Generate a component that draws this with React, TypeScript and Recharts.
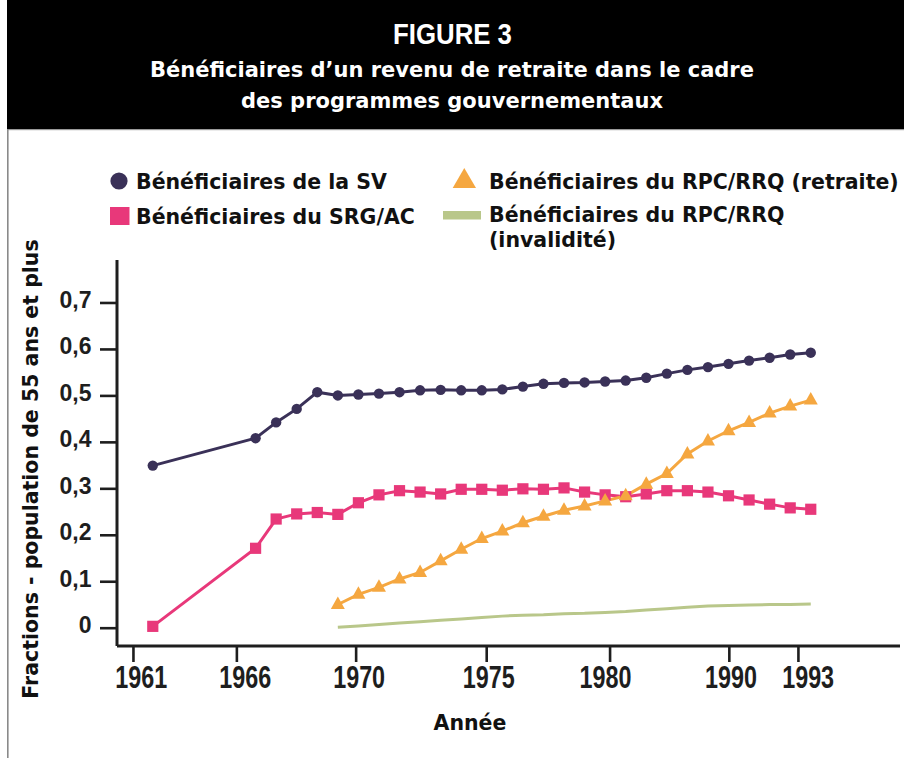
import React from 'react';
import { LineChart, Line, XAxis, YAxis } from 'recharts';

// ---------- data ----------
const YEARS = [1961, 1966, 1967, 1968, 1969, 1970, 1971, 1972, 1973, 1974, 1975, 1976, 1977, 1978, 1979, 1980, 1981, 1982, 1983, 1984, 1985, 1986, 1987, 1988, 1989, 1990, 1991, 1992, 1993];
const SV = [0.350, 0.409, 0.443, 0.472, 0.508, 0.501, 0.503, 0.505, 0.508, 0.512, 0.513, 0.512, 0.512, 0.514, 0.520, 0.526, 0.528, 0.529, 0.531, 0.533, 0.539, 0.548, 0.556, 0.562, 0.569, 0.576, 0.582, 0.589, 0.593];
const SRG = [0.004, 0.172, 0.235, 0.246, 0.249, 0.245, 0.270, 0.287, 0.296, 0.293, 0.289, 0.299, 0.299, 0.297, 0.300, 0.299, 0.302, 0.293, 0.287, 0.283, 0.289, 0.296, 0.296, 0.293, 0.285, 0.276, 0.267, 0.259, 0.256];
const RPC_START_YEAR = 1970;
const RPC_RETRAITE = [0.051, 0.073, 0.088, 0.106, 0.120, 0.145, 0.170, 0.193, 0.209, 0.227, 0.241, 0.254, 0.263, 0.274, 0.285, 0.310, 0.333, 0.375, 0.403, 0.425, 0.443, 0.463, 0.478, 0.491];
const RPC_INVALIDITE = [0.002, 0.005, 0.008, 0.011, 0.014, 0.017, 0.020, 0.023, 0.026, 0.028, 0.029, 0.031, 0.032, 0.034, 0.036, 0.039, 0.042, 0.045, 0.048, 0.049, 0.050, 0.051, 0.051, 0.052];

const X_TICK_POS = [1960.06, 1965.09, 1970.89, 1977.24, 1983.24, 1989.04, 1992.4];
const X_TICK_LABELS = ['1961', '1966', '1970', '1975', '1980', '1990', '1993'];
const Y_TICKS = [0, 0.1, 0.2, 0.3, 0.4, 0.5, 0.6, 0.7];

const TITLE = 'FIGURE 3';
const SUBTITLE_1 = 'Bénéficiaires d\u2019un revenu de retraite dans le cadre';
const SUBTITLE_2 = 'des programmes gouvernementaux';
const X_TITLE = 'Année';
const Y_TITLE = 'Fractions - population de 55 ans et plus';

const NAME_SV = 'Bénéficiaires de la SV';
const NAME_SRG = 'Bénéficiaires du SRG/AC';
const NAME_RET = 'Bénéficiaires du RPC/RRQ (retraite)';
const NAME_INV_1 = 'Bénéficiaires du RPC/RRQ';
const NAME_INV_2 = '(invalidité)';

// ---------- style ----------
const C_SV = '#3a3158';
const C_SRG = '#e8387a';
const C_RET = '#f5a740';
const C_INV = '#b9c78a';
const C_AXIS = '#1e1e1e';
const C_TEXT = '#111111';
const LABEL_SHIFT = [7.7, 8.3, 3, 2, -4.5, 1.7, 9.7];
const WIDE = '"DejaVu Sans", Verdana, sans-serif';
const ARIAL = '"Liberation Sans", Arial, Helvetica, sans-serif';

const rows = YEARS.map((year, i) => ({
  year,
  sv: SV[i],
  srg: SRG[i],
  ret: year >= RPC_START_YEAR ? RPC_RETRAITE[year - RPC_START_YEAR] : null,
  inv: year >= RPC_START_YEAR ? RPC_INVALIDITE[year - RPC_START_YEAR] : null,
}));

const CircleDot = (p: any) => {
  if (p.cx == null || p.cy == null || p.value == null) return <g key={`c${p.index}`} />;
  return <circle key={`c${p.index}`} cx={p.cx} cy={p.cy} r={5.2} fill={C_SV} />;
};
const SquareDot = (p: any) => {
  if (p.cx == null || p.cy == null || p.value == null) return <g key={`s${p.index}`} />;
  return <rect key={`s${p.index}`} x={p.cx - 5.6} y={p.cy - 5.6} width={11.2} height={11.2} fill={C_SRG} />;
};
const TriDot = (p: any) => {
  if (p.cx == null || p.cy == null || p.value == null) return <g key={`t${p.index}`} />;
  const { cx, cy } = p;
  return <polygon key={`t${p.index}`} points={`${cx},${cy - 8} ${cx + 7},${cy + 4.5} ${cx - 7},${cy + 4.5}`} fill={C_RET} />;
};

const XTick = (p: any) => {
  const { x, y, index } = p;
  return (
    <g transform={`translate(${x + LABEL_SHIFT[index]},${y}) scale(0.73,1)`}>
      <text x={0} y={23} textAnchor="middle" fontSize={32} fontFamily={ARIAL} fontWeight="bold" fill={C_AXIS}>
        {X_TICK_LABELS[index]}
      </text>
    </g>
  );
};

const YTick = (p: any) => {
  const { x, y, payload } = p;
  const v = payload.value;
  const label = v === 0 ? '0' : v.toFixed(1).replace('.', ',');
  return (
    <text x={x} y={y + 5} textAnchor="end" fontSize={23} fontFamily={ARIAL} fontWeight="bold" fill={C_AXIS}>
      {label}
    </text>
  );
};

const Decor = () => (
  <svg width={904} height={758} style={{ position: 'absolute', left: 0, top: 0 }}>
    <rect x={0} y={0} width={904} height={758} fill="#ffffff" />
    <rect x={7} y={0} width={897} height={129} fill="#000000" />
    <rect x={7} y={129} width={897} height={1.2} fill="#9a9a9a" />
    <rect x={7} y={129} width={1.6} height={629} fill="#8a8a8a" />
    <g transform="translate(452.5,43.5) scale(0.86,1)">
      <text x={0} y={0} textAnchor="middle" fill="#ffffff" fontSize={30} fontWeight="bold" fontFamily={ARIAL}>{TITLE}</text>
    </g>
    <text x={452} y={77} textAnchor="middle" fill="#ffffff" fontSize={21} fontWeight="bold" fontFamily={WIDE}>{SUBTITLE_1}</text>
    <text x={452} y={108} textAnchor="middle" fill="#ffffff" fontSize={21} fontWeight="bold" fontFamily={WIDE}>{SUBTITLE_2}</text>

    {/* legend */}
    <circle cx={119} cy={181} r={8.6} fill={C_SV} />
    <text x={136} y={188.5} fontSize={20.5} fontWeight="bold" fontFamily={WIDE} fill={C_TEXT}>{NAME_SV}</text>
    <rect x={110} y={207} width={19.5} height={18} fill={C_SRG} />
    <text x={136} y={224} fontSize={20.5} fontWeight="bold" fontFamily={WIDE} fill={C_TEXT}>{NAME_SRG}</text>
    <polygon points="464.3,168 476,188 452.7,188" fill={C_RET} />
    <text x={489} y={188.5} fontSize={20.5} fontWeight="bold" fontFamily={WIDE} fill={C_TEXT}>{NAME_RET}</text>
    <rect x={443} y={211} width={38} height={8.5} fill={C_INV} />
    <text x={489} y={221.5} fontSize={20.5} fontWeight="bold" fontFamily={WIDE} fill={C_TEXT}>{NAME_INV_1}</text>
    <text x={489} y={247} fontSize={20.5} fontWeight="bold" fontFamily={WIDE} fill={C_TEXT}>{NAME_INV_2}</text>

    {/* axis titles */}
    <text x={470} y={730} textAnchor="middle" fontSize={20.5} fontWeight="bold" fontFamily={WIDE} fill={C_TEXT}>{X_TITLE}</text>
    <text transform="translate(38,469) rotate(-90)" x={0} y={0} textAnchor="middle" fontSize={20.5} fontWeight="bold" fontFamily={WIDE} fill={C_TEXT}>{Y_TITLE}</text>
  </svg>
);

export default function App() {
  return (
    <div style={{ position: 'absolute', left: 0, top: 0, width: 904, height: 758, overflow: 'hidden' }}>
      <Decor />
      <div style={{ position: 'absolute', left: 0, top: 0 }}>
        <LineChart width={904} height={758} data={rows} margin={{ top: 260, right: 4, bottom: 62, left: 57 }}>
          <XAxis
            dataKey="year"
            type="number"
            domain={[1959.26, 1997.34]}
            ticks={X_TICK_POS}
            interval={0}
            allowDataOverflow
            height={50}
            axisLine={{ stroke: C_AXIS, strokeWidth: 3 }}
            tickLine={{ stroke: C_AXIS, strokeWidth: 2.6 }}
            tickSize={16}
            tickMargin={3}
            tick={<XTick />}
          />
          <YAxis
            type="number"
            domain={[-0.0383, 0.7925]}
            ticks={Y_TICKS}
            interval={0}
            allowDataOverflow
            width={60}
            axisLine={{ stroke: C_AXIS, strokeWidth: 3 }}
            tickLine={{ stroke: C_AXIS, strokeWidth: 2.6 }}
            tickSize={17}
            tickMargin={8.5}
            tick={<YTick />}
          />
          <Line dataKey="inv" stroke={C_INV} strokeWidth={3} dot={false} activeDot={false} isAnimationActive={false} type="linear" />
          <Line dataKey="sv" stroke={C_SV} strokeWidth={3} dot={CircleDot} activeDot={false} isAnimationActive={false} type="linear" />
          <Line dataKey="srg" stroke={C_SRG} strokeWidth={3} dot={SquareDot} activeDot={false} isAnimationActive={false} type="linear" />
          <Line dataKey="ret" stroke={C_RET} strokeWidth={3} dot={TriDot} activeDot={false} isAnimationActive={false} type="linear" />
        </LineChart>
      </div>
    </div>
  );
}
